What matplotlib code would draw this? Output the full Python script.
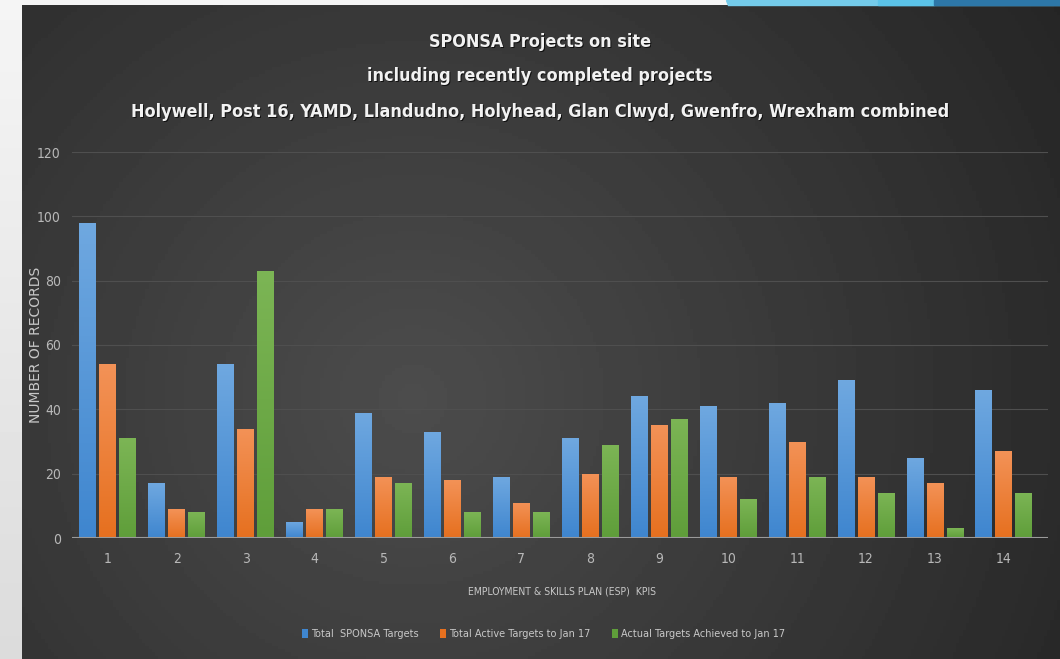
import numpy as np
import matplotlib
matplotlib.use('Agg')
import matplotlib.pyplot as plt
from matplotlib.patches import Polygon
from matplotlib.font_manager import FontProperties

kpis = ['1', '2', '3', '4', '5', '6', '7', '8', '9', '10', '11', '12', '13', '14']
total_targets = [98, 17, 54, 5, 39, 33, 19, 31, 44, 41, 42, 49, 25, 46]
active_targets = [54, 9, 34, 9, 19, 18, 11, 20, 35, 19, 30, 19, 17, 27]
achieved = [31, 8, 83, 9, 17, 8, 8, 29, 37, 12, 19, 14, 3, 14]
series_names = ['Total  SPONSA Targets', 'Total Active Targets to Jan 17',
                'Actual Targets Achieved to Jan 17']
title_lines = ['SPONSA Projects on site', 'including recently completed projects',
               'Holywell, Post 16, YAMD, Llandudno, Holyhead, Glan Clwyd, Gwenfro, Wrexham combined']

def cond(size, bold=False):
    return FontProperties(family='DejaVu Sans', stretch='condensed', size=size,
                          weight='bold' if bold else 'normal')

fig = plt.figure(figsize=(10.6, 6.59), dpi=100)

# page background + dark panel with gradient
bg = fig.add_axes([0, 0, 1, 1])
bg.set_xlim(0, 1060)
bg.set_ylim(659, 0)
bg.axis('off')
side = np.linspace(0.96, 0.86, 200).reshape(-1, 1)
bg.imshow(side, extent=[0, 1060, 659, 0], cmap='gray', vmin=0, vmax=1, aspect='auto')
yy, xx = np.mgrid[0:200, 0:320]
d = np.sqrt(((xx - 120) / 320.0) ** 2 * 1.2 + ((yy - 120) / 200.0) ** 2 * 0.5)
panel = 0.30 - 0.19 * d
bg.imshow(panel, extent=[22, 1060, 659, 5], cmap='gray', vmin=0, vmax=1, aspect='auto')
bg.add_patch(Polygon([[726, 0], [1060, 0], [1060, 5], [728, 5]], color='#74cbea'))
bg.add_patch(Polygon([[878, 0], [934, 0], [934, 5], [878, 5]], color='#5bc3e8'))
bg.add_patch(Polygon([[934, 0], [1060, 0], [1060, 5], [934, 5]], color='#2d77a8'))

for t, y in zip(title_lines, [42, 76, 112]):
    bg.text(541, y + 1.5, t, ha='center', va='center', color='#111111', fontproperties=cond(12.9, True))
    bg.text(540, y, t, ha='center', va='center', color='#f2f2f2', fontproperties=cond(12.9, True))

ax = fig.add_axes([72 / 1060, 1 - 538 / 659, (1048 - 72) / 1060, (538 - 152) / 659])
ax.patch.set_alpha(0)
x = np.arange(len(kpis))
w = 0.245
colors = [('#6fa8e0', '#3f86cf'), ('#f39257', '#e6701f'), ('#7cb555', '#5f9e3a')]
grad = np.linspace(1, 0, 100).reshape(-1, 1)
for k, vals in enumerate([total_targets, active_targets, achieved]):
    bars = ax.bar(x + (k - 1) * 0.29, vals, w, color=colors[k][1], label=series_names[k], zorder=2)
    cm = matplotlib.colors.LinearSegmentedColormap.from_list('c%d' % k, [colors[k][1], colors[k][0]])
    for b in bars:
        im = ax.imshow(grad, extent=[b.get_x(), b.get_x() + b.get_width(), 0, b.get_height()],
                       cmap=cm, aspect='auto', zorder=3)
        im.set_clip_path(b)

ax.set_xlim(-0.52, 13.64)
ax.set_ylim(0, 120)
ax.set_yticks(range(0, 121, 20))
ax.set_xticks(x)
ax.set_xticklabels(kpis)
ax.grid(axis='y', color='#4f4f4f', linewidth=0.8, zorder=0)
ax.axhline(0, color='#9a9a9a', linewidth=1.5, zorder=4)
for s in ax.spines.values():
    s.set_visible(False)
ax.tick_params(length=0, colors='#b8b8b8')
for lab in ax.get_xticklabels() + ax.get_yticklabels():
    lab.set_fontproperties(cond(10))
ax.tick_params(axis='x', pad=10)
ax.tick_params(axis='y', pad=8)
ax.set_ylabel('NUMBER OF RECORDS', color='#c8c8c8', fontsize=10)
ax.yaxis.set_label_coords(-0.03, 0.5)
ax.set_xlabel('EMPLOYMENT & SKILLS PLAN (ESP)  KPIS', color='#c8c8c8', fontproperties=cond(7.5))
ax.xaxis.set_label_coords(0.502, -0.125)
leg = ax.legend(loc='upper center', bbox_to_anchor=(0.483, -0.21), ncol=3, frameon=False,
                handlelength=0.55, handleheight=0.9, handletextpad=0.25, columnspacing=2.0,
                prop=cond(7.8))
for t in leg.get_texts():
    t.set_color('#c8c8c8')

fig.savefig('out.png', dpi=100)
